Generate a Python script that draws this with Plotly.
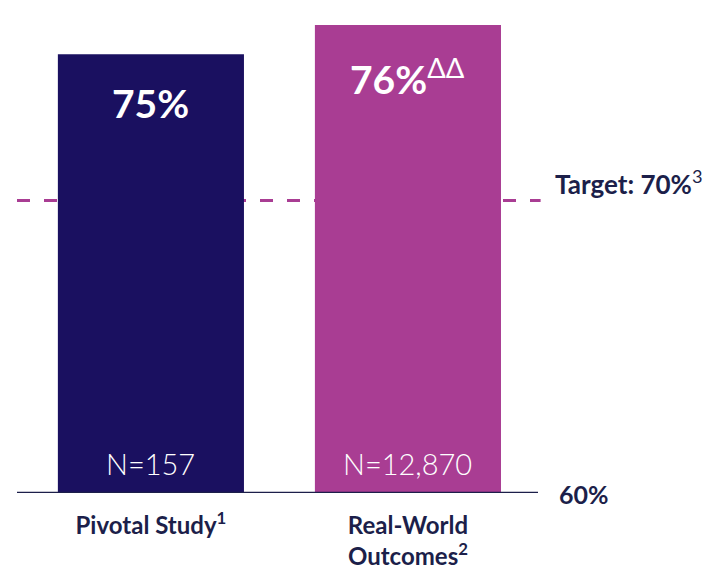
import plotly.graph_objects as go

categories = ["Pivotal Study<sup>1</sup>", "Real-World<br>Outcomes<sup>2</sup>"]
rates = [75, 76]
rate_labels = ["<b>75%</b>", "<b>76%</b><sup>ΔΔ</sup>"]
n_labels = ["N=157", "N=12,870"]
target = 70
baseline = 60

NAVY = "#1a1060"
MAGENTA = "#a93d93"
TEXT = "#1c1f4a"

fig = go.Figure(
    data=go.Bar(
        x=[0, 1],
        y=[r - baseline for r in rates],
        base=baseline,
        width=0.724,
        marker=dict(color=[NAVY, MAGENTA], line=dict(width=0)),
        hoverinfo="skip",
    )
)

# value labels inside bars
for i, (r, lab) in enumerate(zip(rates, rate_labels)):
    fig.add_annotation(x=i, y=r, text=lab, showarrow=False, yanchor="top",
                       yshift=-24, font=dict(family="Lato", size=39, color="white"))
for i, lab in enumerate(n_labels):
    fig.add_annotation(x=i, y=baseline, text=lab, showarrow=False, yanchor="bottom",
                       yshift=10, font=dict(family="Lato", size=29, color="white", weight=300))

# target line (behind bars)
fig.add_shape(type="line", xref="paper", x0=0, x1=1.005, y0=target, y1=target, layer="below",
              line=dict(color=MAGENTA, width=3, dash="13px,14px"))
fig.add_annotation(xref="paper", x=1, y=target, xanchor="left", yanchor="middle", xshift=15, yshift=18,
                   text="<b>Target: 70%</b><sup>3</sup>", showarrow=False,
                   font=dict(family="Lato", size=26, color=TEXT))

# baseline axis
fig.add_shape(type="line", xref="paper", x0=0, x1=1, y0=baseline, y1=baseline,
              line=dict(color=TEXT, width=2.5))
fig.add_annotation(xref="paper", x=1, y=baseline, xanchor="left", yanchor="middle", xshift=19, yshift=-1,
                   text="<b>60%</b>", showarrow=False, font=dict(family="Lato", size=25, color=TEXT))

# page body adds an 8px margin, so the figure is a little smaller than the window
fig.update_layout(
    width=704, height=569,
    margin=dict(l=9, r=174, t=0, b=84),
    paper_bgcolor="white", plot_bgcolor="white",
    showlegend=False,
    xaxis=dict(range=[-0.521, 1.506], tickvals=[0, 1], ticktext=categories, showgrid=False,
               zeroline=False, showline=False, ticks="", ticklabelstandoff=16, automargin=False,
               tickfont=dict(family="Lato", size=24, color=TEXT, weight="bold")),
    yaxis=dict(range=[baseline, 76.58], visible=False, showgrid=False, zeroline=False,
               automargin=False),
)

fig.write_html("out.html")
